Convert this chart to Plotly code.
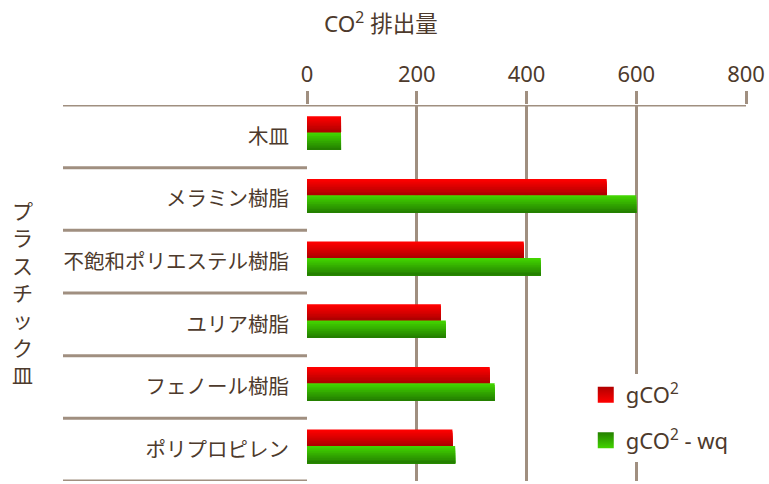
import plotly.graph_objects as go

categories = ["木皿", "メラミン樹脂", "不飽和ポリエステル樹脂", "ユリア樹脂", "フェノール樹脂", "ポリプロピレン"]
gco2 = [62, 546, 395, 244, 333, 265]
gco2_wq = [62, 600, 426, 253, 342, 270]
series_names = ["gCO<sup>2</sup>", "gCO<sup>2</sup> - wq"]
x_ticks = [0, 200, 400, 600, 800]

TEXT = "#4d3a2c"
GRID = "#a08f80"
FONT = "Noto Sans, Noto Sans CJK JP, sans-serif"

def lerp(c1, c2, t):
    return "#%02x%02x%02x" % tuple(int(round(a + (b - a) * t)) for a, b in zip(c1, c2))

series = [
    (gco2, (255, 0, 0), (176, 0, 0), -0.32, 0.26),
    (gco2_wq, (66, 212, 0), (36, 128, 0), -0.06, 0.28),
]
N = 10
fig = go.Figure()
for vals, ctop, cbot, off0, bw in series:
    for k in range(N):
        fig.add_trace(go.Bar(
            y=categories, x=vals, orientation="h",
            width=bw - k * bw / N, offset=off0 + k * bw / N,
            marker=dict(color=lerp(ctop, cbot, k / (N - 1)), line=dict(width=0)),
            showlegend=False, hoverinfo="x",
        ))

for i, (vals, ctop, cbot, off0, bw) in enumerate(series):
    fig.add_trace(go.Scatter(
        x=[None], y=[None], mode="markers", name=series_names[i],
        legendgroup=str(i),
        marker=dict(symbol="square", size=20, color="#%02x%02x%02x" % cbot,
                    gradient=dict(type="vertical", color="#%02x%02x%02x" % ctop)),
    ))

left_paper = (63 - 307) / 439
shapes = []
for j in range(len(categories) + 1):
    shapes.append(dict(type="line", xref="paper", yref="y",
                       x0=left_paper, x1=1 if j == 0 else 0,
                       y0=j - 0.5, y1=j - 0.5,
                       line=dict(color=GRID, width=3), layer="below"))

fig.update_layout(
    width=769, height=484,
    margin=dict(l=307, r=23, t=105, b=3),
    paper_bgcolor="white", plot_bgcolor="white",
    barmode="overlay",
    font=dict(family=FONT, color=TEXT, size=20),
    shapes=shapes,
    showlegend=True,
    legend=dict(x=0.635, y=0.285, xanchor="left", yanchor="top",
                bgcolor="white", font=dict(size=22, color=TEXT),
                tracegroupgap=14, traceorder="grouped", itemsizing="trace"),
    xaxis=dict(side="top", range=[0, 800], tickvals=x_ticks,
               showgrid=True, gridcolor=GRID, gridwidth=3,
               zeroline=False, showline=False,
               ticks="outside", ticklen=13, tickwidth=3, tickcolor=GRID,
               tickfont=dict(size=22, color=TEXT), fixedrange=True),
    yaxis=dict(type="category",
               showgrid=False, zeroline=False, showline=False, ticks="",
               ticklabelstandoff=17,
               tickfont=dict(size=20.5, color=TEXT), fixedrange=True),
    annotations=[
        dict(text="CO<sup>2</sup> 排出量", xref="paper", yref="paper",
             x=(381 - 307) / 439, y=(481 - 22) / 376, xanchor="center", yanchor="middle",
             showarrow=False, font=dict(size=22.5, color=TEXT)),
        dict(text="<br>".join(list("プラスチック皿")), xref="paper", yref="paper",
             x=(22 - 307) / 439, y=(481 - 293) / 376, xanchor="center", yanchor="middle",
             showarrow=False, font=dict(size=21, color=TEXT)),
    ],
)
fig.update_yaxes(range=[len(categories) - 0.5, -0.5], autorange=False)

fig.write_html("out.html", config={"displayModeBar": False},
               post_script="document.body.style.margin='0px';")
